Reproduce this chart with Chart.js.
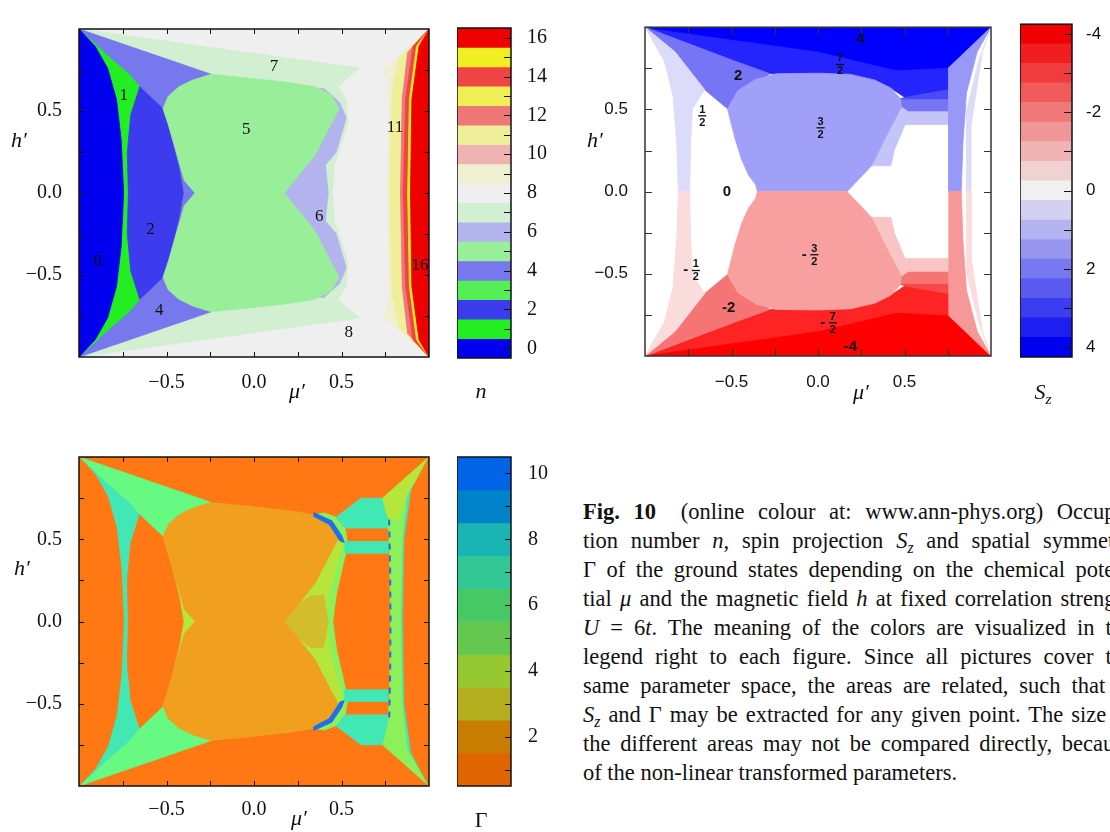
<!DOCTYPE html>
<html>
<head>
<meta charset="utf-8">
<title>Fig. 10</title>
<script src="https://cdn.jsdelivr.net/npm/chart.js@4.4.1/dist/chart.umd.min.js"></script>
<style>
html, body { margin: 0; padding: 0; background: #fff; overflow: hidden; }
body { position: relative; width: 1110px; height: 832px; font-family: "Liberation Serif", "DejaVu Serif", serif; color: #111; }
canvas { position: absolute; }
.lbl { position: absolute; transform: translate(-50%, -50%); font-size: 22px; font-style: italic; white-space: nowrap; line-height: 1; }
.up { font-style: normal; }
#caption { position: absolute; left: 583px; top: 497px; width: 550px; font-size: 22.5px; line-height: 29px; }
#caption div { text-align: justify; text-align-last: justify; }
#caption div.last { text-align-last: left; }
sub { font-size: 0.7em; line-height: 0; vertical-align: -0.3em; }
</style>
</head>
<body>
<canvas id="plane-n" width="445" height="400" style="left:0;top:0"></canvas>
<canvas id="bar-n" width="100" height="400" style="left:457px;top:0"></canvas>
<canvas id="plane-sz" width="445" height="400" style="left:560px;top:0"></canvas>
<canvas id="bar-sz" width="90" height="400" style="left:1020px;top:0"></canvas>
<canvas id="plane-gamma" width="445" height="404" style="left:0;top:428px"></canvas>
<canvas id="bar-gamma" width="100" height="404" style="left:457px;top:428px"></canvas>

<div class="lbl" style="left:19px;top:140px">h&prime;</div>
<div class="lbl" style="left:297px;top:391px">&mu;&prime;</div>
<div class="lbl" style="left:481px;top:391px">n</div>
<div class="lbl" style="left:595px;top:140px">h&prime;</div>
<div class="lbl" style="left:861px;top:392px">&mu;&prime;</div>
<div class="lbl" style="left:1043px;top:392px">S<sub>z</sub></div>
<div class="lbl" style="left:22px;top:568px">h&prime;</div>
<div class="lbl" style="left:299px;top:818px">&mu;&prime;</div>
<div class="lbl up" style="left:481px;top:820px">&Gamma;</div>

<div id="caption">
<div><b>Fig. 10</b>&ensp; (online colour at: www.ann-phys.org) Occupa-</div>
<div>tion number <i>n</i>, spin projection <i>S<sub>z</sub></i> and spatial symmetry</div>
<div>&Gamma; of the ground states depending on the chemical poten-</div>
<div>tial <i>&mu;</i> and the magnetic field <i>h</i> at fixed correlation strength</div>
<div><i>U</i> = 6<i>t</i>. The meaning of the colors are visualized in the</div>
<div>legend right to each figure. Since all pictures cover the</div>
<div>same parameter space, the areas are related, such that <i>n</i>,</div>
<div><i>S<sub>z</sub></i> and &Gamma; may be extracted for any given point. The size of</div>
<div>the different areas may not be compared directly, because</div>
<div class="last">of the non-linear transformed parameters.</div>
</div>

<script>
// ---- axes of the three (mu', h') planes ----
const planeTicks = [-0.75, -0.5, -0.25, 0, 0.25, 0.5, 0.75];
const planeTickText = ['', '\u22120.5', '', '0.0', '', '0.5', ''];

// ---- colour bars ----
const nLevels = [0, 1, 2, 3, 4, 5, 6, 7, 8, 9, 10, 11, 12, 13, 14, 15, 16];
const nBarText = ['0', '', '2', '', '4', '', '6', '', '8', '', '10', '', '12', '', '14', '', '16'];
const nColors = ['#0000ee', '#22ee22', '#3c3cee', '#55ee55', '#7777ee', '#99ee99', '#b3b3ee', '#d2efd2', '#efefef',
                 '#efefd2', '#efb3b3', '#efef99', '#ef7777', '#efef55', '#ef4444', '#efef22', '#ef0000'];

const szLevels = [-4, -3.5, -3, -2.5, -2, -1.5, -1, -0.5, 0, 0.5, 1, 1.5, 2, 2.5, 3, 3.5, 4];
const szBarTicks = [-4, -3, -2, -1, 0, 1, 2, 3, 4];
const szBarText = ['-4', '', '-2', '', '0', '', '2', '', '4'];
const szColors = ['#f00000', '#f01e1e', '#f03c3c', '#f05a5a', '#f07878', '#f09696', '#f0b4b4', '#f0d2d2', '#f0f0f0',
                  '#d2d2f0', '#b4b4f0', '#9696f0', '#7878f0', '#5a5af0', '#3c3cf0', '#1e1ef0', '#0000f0'];

const gammaLevels = [1, 2, 3, 4, 5, 6, 7, 8, 9, 10];
const gammaBarText = ['', '2', '', '4', '', '6', '', '8', '', '10'];
const gammaColors = ['#e06400', '#c87d00', '#b4af1e', '#96c832', '#64c850', '#46c864', '#32c896', '#19b4b4', '#0082c8', '#0064e6'];

// ---- regions, [mu', h'] outlines ----
const fullSquare = [[-1, 1], [1, 1], [1, -1], [-1, -1]];

// occupation number regions (also reused for Gamma, same parameter space)
const nState7 = [[-1, 1], [0.602, 0.762], [0.48, 0.648], [0.527, 0.571], [0.535, 0.419], [0.459, 0.171], [0.449, 0],
                 [0.459, -0.171], [0.535, -0.419], [0.527, -0.571], [0.48, -0.648], [0.602, -0.762], [-1, -1]];
const nState4 = [[-1, 1], [-0.245, 0.724], [-0.245, -0.724], [-1, -1]];
const nState1 = [[-1, 1], [-0.837, 0.838], [-0.714, 0.724], [-0.653, 0.648], [-0.704, 0.476], [-0.724, 0.248], [-0.718, 0],
                 [-0.724, -0.248], [-0.704, -0.476], [-0.653, -0.648], [-0.714, -0.724], [-0.837, -0.838], [-1, -1]];
const nState0 = [[-1, 1], [-0.908, 0.895], [-0.837, 0.762], [-0.786, 0.571], [-0.759, 0.324], [-0.745, 0],
                 [-0.759, -0.324], [-0.786, -0.571], [-0.837, -0.762], [-0.908, -0.895], [-1, -1]];
const nState2 = [[-0.653, 0.648], [-0.52, 0.514], [-0.469, 0.324], [-0.429, 0.152], [-0.404, 0], [-0.429, -0.152],
                 [-0.469, -0.324], [-0.52, -0.514], [-0.653, -0.648], [-0.704, -0.476], [-0.724, -0.248], [-0.718, 0],
                 [-0.724, 0.248], [-0.704, 0.476]];
const nState6 = [[0.398, 0.638], [0.49, 0.552], [0.527, 0.457], [0.469, 0.248], [0.408, 0.171], [0.424, 0],
                 [0.408, -0.171], [0.469, -0.248], [0.527, -0.457], [0.49, -0.552], [0.398, -0.638], [0.1, -0.6], [0.1, 0.6]];
const nState5 = [[-0.52, 0.514], [-0.49, 0.59], [-0.429, 0.648], [-0.347, 0.69], [-0.245, 0.724], [-0.02, 0.699],
                 [0.184, 0.676], [0.347, 0.648], [0.439, 0.6], [0.486, 0.514], [0.347, 0.229], [0.173, 0],
                 [0.347, -0.229], [0.486, -0.514], [0.439, -0.6], [0.347, -0.648], [0.184, -0.676], [-0.02, -0.699],
                 [-0.245, -0.724], [-0.347, -0.69], [-0.429, -0.648], [-0.49, -0.59], [-0.52, -0.514], [-0.49, -0.419],
                 [-0.439, -0.229], [-0.398, -0.076], [-0.337, 0], [-0.398, 0.076], [-0.439, 0.229], [-0.49, 0.419]];
const nState9 = [[1, 1], [0.735, 0.752], [0.771, 0.667], [0.765, 0], [0.771, -0.667], [0.735, -0.752], [1, -1]];
const nState11 = [[1, 1], [0.827, 0.819], [0.792, 0.629], [0.78, 0.286], [0.776, 0], [0.78, -0.286], [0.792, -0.629],
                  [0.827, -0.819], [1, -1]];
const nState12 = [[1, 1], [0.878, 0.857], [0.847, 0.571], [0.837, 0], [0.847, -0.571], [0.878, -0.857], [1, -1]];
const nState14 = [[1, 1], [0.908, 0.895], [0.867, 0.571], [0.853, 0], [0.867, -0.571], [0.908, -0.895], [1, -1]];
const nState15 = [[1, 1], [0.929, 0.895], [0.888, 0.571], [0.878, 0], [0.888, -0.571], [0.929, -0.895], [1, -1]];
const nState16 = [[1, 1], [0.943, 0.895], [0.902, 0.571], [0.894, 0], [0.902, -0.571], [0.943, -0.895], [1, -1]];

const nLabelText = ['0', '1', '2', '4', '5', '6', '7', '8', '11', '16'];
const nLabelX = [-0.894, -0.745, -0.592, -0.541, -0.045, 0.373, 0.114, 0.541, 0.806, 0.949];
const nLabelY = [-0.415, 0.594, -0.225, -0.714, 0.385, -0.143, 0.771, -0.848, 0.4, -0.444];

// spin projection regions
const szTop72 = [[-1, 1], [1, 1], [0.756, 0.62], [0.503, 0.572], [0.421, 0.63], [0.188, 0.713], [-0.279, 0.717], [-0.482, 0.794]];
const szTop4 = [[-1, 1], [1, 1], [0.898, 0.89], [0.756, 0.755], [0.452, 0.74], [0.005, 0.852]];
const szTop2 = [[-1, 1], [-0.482, 0.794], [-0.279, 0.717], [-0.523, 0.504], [-0.655, 0.62], [-0.827, 0.851]];
const szTopHalf = [[-1, 1], [-0.827, 0.851], [-0.655, 0.62], [-0.726, 0.504], [-0.736, 0.292], [-0.742, 0], [-0.807, 0],
                   [-0.817, 0.292], [-0.838, 0.581], [-0.888, 0.793]];
const szTopBandA = [[0.503, 0.572], [0.756, 0.62], [0.756, 0.558], [0.45, 0.558]];
const szTopBandB = [[0.45, 0.558], [0.756, 0.558], [0.756, 0.485], [0.45, 0.485]];
const szTopBandC = [[0.45, 0.485], [0.756, 0.485], [0.756, 0.408], [0.45, 0.408]];
const szTopWedge = [[0.482, 0.514], [0.523, 0.485], [0.503, 0.408], [0.442, 0.254], [0.421, 0.157], [0.31, 0.157], [0.391, 0.331]];
const szTop32 = [[-0.523, 0.504], [-0.462, 0.616], [-0.36, 0.683], [-0.239, 0.717], [0.005, 0.72], [0.188, 0.713],
                 [0.33, 0.678], [0.421, 0.63], [0.476, 0.566], [0.482, 0.514], [0.391, 0.331], [0.31, 0.157], [0.168, 0],
                 [-0.35, 0], [-0.36, 0.041], [-0.401, 0.099], [-0.442, 0.196], [-0.482, 0.331]];
const szTopRightA = [[1, 1], [0.756, 0.755], [0.756, 0], [0.828, 0], [0.838, 0.3], [0.858, 0.6], [0.92, 0.85]];
const szTopRightB = [[1, 1], [0.93, 0.8], [0.86, 0.5], [0.858, 0], [0.885, 0], [0.885, 0.4], [0.95, 0.85]];

const szBot72 = [[-1, -1], [1, -1], [0.756, -0.62], [0.503, -0.572], [0.421, -0.63], [0.188, -0.713], [-0.279, -0.717], [-0.482, -0.794]];
const szBot4 = [[-1, -1], [1, -1], [0.898, -0.89], [0.756, -0.755], [0.452, -0.74], [0.005, -0.852]];
const szBot2 = [[-1, -1], [-0.482, -0.794], [-0.279, -0.717], [-0.523, -0.504], [-0.655, -0.62], [-0.827, -0.851]];
const szBotHalf = [[-1, -1], [-0.827, -0.851], [-0.655, -0.62], [-0.726, -0.504], [-0.736, -0.292], [-0.742, 0], [-0.807, 0],
                   [-0.817, -0.292], [-0.838, -0.581], [-0.888, -0.793]];
const szBotBandA = [[0.503, -0.572], [0.756, -0.62], [0.756, -0.558], [0.45, -0.558]];
const szBotBandB = [[0.45, -0.558], [0.756, -0.558], [0.756, -0.485], [0.45, -0.485]];
const szBotBandC = [[0.45, -0.485], [0.756, -0.485], [0.756, -0.408], [0.45, -0.408]];
const szBotWedge = [[0.482, -0.514], [0.523, -0.485], [0.503, -0.408], [0.442, -0.254], [0.421, -0.157], [0.31, -0.157], [0.391, -0.331]];
const szBot32 = [[-0.523, -0.504], [-0.462, -0.616], [-0.36, -0.683], [-0.239, -0.717], [0.005, -0.72], [0.188, -0.713],
                 [0.33, -0.678], [0.421, -0.63], [0.476, -0.566], [0.482, -0.514], [0.391, -0.331], [0.31, -0.157], [0.168, 0],
                 [-0.35, 0], [-0.36, -0.041], [-0.401, -0.099], [-0.442, -0.196], [-0.482, -0.331]];
const szBotRightA = [[1, -1], [0.756, -0.755], [0.756, 0], [0.828, 0], [0.838, -0.3], [0.858, -0.6], [0.92, -0.85]];
const szBotRightB = [[1, -1], [0.93, -0.8], [0.86, -0.5], [0.858, 0], [0.885, 0], [0.885, -0.4], [0.95, -0.85]];

const szLabelText = ['4', '7/2', '2', '1/2', '3/2', '0', '-1/2', '-3/2', '-2', '-7/2', '-4'];
const szLabelX = [0.245, 0.127, -0.462, -0.669, 0.015, -0.527, -0.706, -0.021, -0.517, 0.086, 0.188];
const szLabelY = [0.932, 0.774, 0.707, 0.462, 0.389, 0, -0.479, -0.383, -0.707, -0.797, -0.942];

// spatial symmetry regions (extra ones, the rest reuse the n outlines)
const gammaGap = [[-0.52, 0.514], [-0.3, 0.514], [-0.3, -0.514], [-0.52, -0.514]];
const gammaStrip7 = [[0.4, 0.66], [0.469, 0.634], [0.52, 0.568], [0.535, 0.47], [0.47, 0.16], [0.45, 0], [0.47, -0.16],
                     [0.535, -0.47], [0.52, -0.568], [0.469, -0.634], [0.4, -0.66], [0.1, -0.6], [0.1, 0.6]];
const gammaWedge6 = [[0.47, 0.56], [0.51, 0.49], [0.43, 0.17], [0.415, 0], [0.43, -0.17], [0.51, -0.49], [0.47, -0.56],
                     [0.1, -0.5], [0.1, 0.5]];
const gammaNotch = [[0.1, 0], [0.327, 0.158], [0.398, 0.158], [0.424, 0], [0.398, -0.158], [0.327, -0.158]];
const gammaArcTop = [[0.343, 0.662], [0.445, 0.612], [0.5, 0.525], [0.517, 0.48], [0.49, 0.49], [0.47, 0.525], [0.43, 0.59], [0.34, 0.64]];
const gammaArcBot = [[0.343, -0.662], [0.445, -0.612], [0.5, -0.525], [0.517, -0.48], [0.49, -0.49], [0.47, -0.525], [0.43, -0.59], [0.34, -0.64]];
const gammaBlockTop = [[0.469, 0.634], [0.612, 0.749], [0.735, 0.749], [0.765, 0.634], [0.765, 0.568], [0.52, 0.568]];
const gammaBandTop = [[0.52, 0.486], [0.765, 0.486], [0.765, 0.415], [0.52, 0.415]];
const gammaBandBot = [[0.52, -0.486], [0.765, -0.486], [0.765, -0.415], [0.52, -0.415]];
const gammaBlockBot = [[0.469, -0.634], [0.612, -0.749], [0.735, -0.749], [0.765, -0.634], [0.765, -0.568], [0.52, -0.568]];
const gammaRight7 = [[1, 1], [0.735, 0.749], [0.765, 0.634], [0.775, 0.4], [0.78, 0], [0.775, -0.4], [0.765, -0.634],
                     [0.735, -0.749], [1, -1]];
const gammaRightCyan = [[1, 1], [0.88, 0.78], [0.85, 0.5], [0.842, 0], [0.85, -0.5], [0.88, -0.78], [1, -1]];
const gammaCorner = [[0.735, 0.749], [1, 1], [0.88, 0.78], [0.82, 0.62], [0.765, 0.634]];
const gammaRightEdge = [[1, 1], [0.9, 0.8], [0.86, 0.5], [0.852, 0], [0.86, -0.5], [0.9, -0.8], [1, -1]];
const gammaDashLine = [[0.772, 0.62], [0.778, 0.3], [0.78, 0], [0.778, -0.3], [0.772, -0.62]];

// ---- plugins ----
const frameTicks = {
  id: 'frameTicks',
  afterDraw(chart, args, o) {
    const { ctx, chartArea: a } = chart;
    const xs = chart.scales.x, ys = chart.scales.y;
    ctx.save();
    ctx.strokeStyle = o.color;
    ctx.lineWidth = 1;
    ctx.beginPath();
    (o.xTicks || []).forEach(v => {
      const px = Math.round(xs.getPixelForValue(v)) + 0.5;
      ctx.moveTo(px, a.top); ctx.lineTo(px, a.top + o.len);
      ctx.moveTo(px, a.bottom); ctx.lineTo(px, a.bottom - o.len);
    });
    (o.yTicks || []).forEach(v => {
      const py = Math.round(ys.getPixelForValue(v)) + 0.5;
      if (o.left) { ctx.moveTo(a.left, py); ctx.lineTo(a.left + o.len, py); }
      ctx.moveTo(a.right, py); ctx.lineTo(a.right - o.len, py);
    });
    ctx.stroke();
    ctx.lineWidth = o.width;
    ctx.strokeRect(a.left, a.top, a.right - a.left, a.bottom - a.top);
    ctx.restore();
  }
};

const regionLabels = {
  id: 'regionLabels',
  afterDatasetsDraw(chart, args, o) {
    if (!o.texts) return;
    const ctx = chart.ctx;
    ctx.save();
    ctx.fillStyle = '#111';
    ctx.textAlign = 'center';
    ctx.textBaseline = 'middle';
    o.texts.forEach((t, i) => {
      const px = chart.scales.x.getPixelForValue(o.xs[i]);
      const py = chart.scales.y.getPixelForValue(o.ys[i]);
      const neg = t[0] === '-' && t.includes('/');
      const body = neg ? t.slice(1) : t;
      if (!body.includes('/')) {
        ctx.font = o.font;
        ctx.fillText(t, px, py);
        return;
      }
      // stacked fraction
      const [num, den] = body.split('/');
      ctx.font = o.fracFont;
      const w = Math.max(ctx.measureText(num).width, ctx.measureText(den).width);
      ctx.fillText(num, px, py - 6);
      ctx.fillText(den, px, py + 7);
      ctx.fillRect(px - w / 2 - 1, py - 0.5, w + 2, 1.3);
      if (neg) {
        ctx.font = o.font;
        ctx.fillText('-', px - w / 2 - 7, py);
      }
    });
    ctx.restore();
  }
};

// ---- builders ----
function toPoints(poly) {
  const pts = poly.map(p => ({ x: p[0], y: p[1] }));
  pts.push({ x: poly[0][0], y: poly[0][1] }); // close the outline
  return pts;
}

// Chart.js paints dataset 0 last, so the layer list is reversed:
// the first layer in the list ends up at the bottom.
function regionDatasets(layers) {
  return layers.map(([poly, color]) => ({
    data: toPoints(poly),
    backgroundColor: color,
    borderColor: color,
    borderWidth: 0.8,
    fill: 'shape',
    pointRadius: 0,
    tension: 0
  })).reverse();
}

function axisOptions(cfg, axis) {
  return {
    type: 'linear',
    min: -1,
    max: 1,
    position: axis === 'x' ? 'bottom' : 'left',
    grid: { display: false, drawTicks: false },
    border: { display: false },
    afterBuildTicks: s => { s.ticks = planeTicks.map(v => ({ value: v })); },
    afterFit: s => {
      if (axis === 'x') s.height = cfg.xAxisHeight;
      else s.width = cfg.yAxisWidth;
    },
    ticks: {
      autoSkip: false,
      maxRotation: 0,
      minRotation: 0,
      padding: axis === 'x' ? cfg.xPad : cfg.yPad,
      color: '#111',
      font: cfg.tickFont,
      callback: v => planeTickText[planeTicks.indexOf(v)]
    }
  };
}

function drawPlane(canvasId, layers, cfg) {
  return new Chart(canvasId, {
    type: 'line',
    data: { datasets: (cfg.extra || []).concat(regionDatasets(layers)) },
    options: {
      responsive: false,
      animation: false,
      events: [],
      layout: { padding: { top: cfg.top, right: cfg.right, left: 0, bottom: 0 } },
      plugins: {
        legend: { display: false },
        tooltip: { enabled: false },
        frameTicks: { color: cfg.frame, width: 1.5, len: cfg.tickLen, xTicks: planeTicks, yTicks: planeTicks, left: true },
        regionLabels: cfg.labels || {}
      },
      scales: { x: axisOptions(cfg, 'x'), y: axisOptions(cfg, 'y') }
    },
    plugins: [frameTicks, regionLabels]
  });
}

function drawColorbar(canvasId, levels, colors, cfg) {
  return new Chart(canvasId, {
    type: 'bar',
    data: {
      labels: ['c'],
      datasets: [{
        data: levels.map(v => ({ x: 'c', y: [v - cfg.half, v + cfg.half] })),
        backgroundColor: colors,
        borderWidth: 0,
        barPercentage: 1,
        categoryPercentage: 1
      }]
    },
    options: {
      responsive: false,
      animation: false,
      events: [],
      layout: { padding: { top: cfg.top, bottom: cfg.bottom, left: 0, right: 0 } },
      plugins: {
        legend: { display: false },
        tooltip: { enabled: false },
        frameTicks: { color: '#111', width: 1.5, len: cfg.tickLen, xTicks: [], yTicks: cfg.ticks, left: false }
      },
      scales: {
        x: { display: false },
        y: {
          position: 'right',
          min: levels[0] - cfg.half,
          max: levels[levels.length - 1] + cfg.half,
          reverse: !!cfg.reverse,
          grid: { display: false, drawTicks: false },
          border: { display: false },
          afterBuildTicks: s => { s.ticks = cfg.ticks.map(v => ({ value: v })); },
          afterFit: s => { s.width = cfg.axisWidth; },
          ticks: {
            autoSkip: false,
            padding: cfg.pad,
            color: '#111',
            font: cfg.font,
            callback: v => cfg.text[cfg.ticks.indexOf(v)]
          }
        }
      }
    },
    plugins: [frameTicks]
  });
}

// ---- occupation number n ----
drawPlane('plane-n', [
  [fullSquare, nColors[8]], [nState7, nColors[7]], [nState4, nColors[4]], [nState1, nColors[1]],
  [nState0, nColors[0]], [nState2, nColors[2]], [nState6, nColors[6]], [nState5, nColors[5]],
  [nState9, nColors[9]], [nState11, nColors[11]], [nState12, nColors[12]], [nState14, nColors[14]],
  [nState15, nColors[15]], [nState16, nColors[16]]
], {
  top: 8, right: 16, xAxisHeight: 43, yAxisWidth: 79, xPad: 14, yPad: 17, tickLen: 5, frame: '#111',
  tickFont: { family: 'Liberation Serif', size: 20 },
  labels: { texts: nLabelText, xs: nLabelX, ys: nLabelY, font: '17px "Liberation Serif"' }
});
drawColorbar('bar-n', nLevels, nColors, {
  half: 0.5, ticks: nLevels, text: nBarText, top: 8, bottom: 42, axisWidth: 46, pad: 16, tickLen: 7,
  font: { family: 'Liberation Serif', size: 20 }
});

// ---- spin projection Sz ----
const szBlue = { s4: '#0000ff', s72: '#2424ff', s3: '#4a4af6', s2: '#7575f5', s32: '#a0a0f8', s1: '#c4c4f8', s12: '#dcdcfa', sA: '#9898f6' };
const szRed = { s4: '#ff0000', s72: '#ff2424', s3: '#f64a4a', s2: '#f57575', s32: '#f8a0a0', s1: '#f8c4c4', s12: '#fadcdc', sA: '#f69898' };
drawPlane('plane-sz', [
  [szTop72, szBlue.s72], [szTop4, szBlue.s4], [szTop2, szBlue.s2], [szTopHalf, szBlue.s12],
  [szTopBandA, szBlue.s3], [szTopBandB, szBlue.s2], [szTopBandC, szBlue.s1], [szTopWedge, szBlue.s1],
  [szTop32, szBlue.s32], [szTopRightA, szBlue.sA], [szTopRightB, szBlue.s12],
  [szBot72, szRed.s72], [szBot4, szRed.s4], [szBot2, szRed.s2], [szBotHalf, szRed.s12],
  [szBotBandA, szRed.s3], [szBotBandB, szRed.s2], [szBotBandC, szRed.s1], [szBotWedge, szRed.s1],
  [szBot32, szRed.s32], [szBotRightA, szRed.sA], [szBotRightB, szRed.s12]
], {
  top: 10, right: 14, xAxisHeight: 44, yAxisWidth: 85, xPad: 16, yPad: 17, tickLen: 7, frame: '#333',
  tickFont: { family: 'Liberation Sans', size: 17 },
  labels: { texts: szLabelText, xs: szLabelX, ys: szLabelY, font: 'bold 15px "Liberation Sans"', fracFont: 'bold 11px "Liberation Sans"' }
});
drawColorbar('bar-sz', szLevels, szColors, {
  half: 0.25, ticks: szBarTicks, text: szBarText, reverse: true, top: 11, bottom: 43, axisWidth: 38, pad: 14, tickLen: 8,
  font: { family: 'Liberation Sans', size: 17 }
});

// ---- spatial symmetry Gamma ----
const gOrange = '#ff7814', gCentre = '#f0a01e', gCyan = '#41e8b4', gGreen = '#66fa82',
      gYellow = '#b4e63c', gLime = '#8cf05a', gOlive = '#d2be2d', gBlue = '#1e6ef0';
drawPlane('plane-gamma', [
  [fullSquare, gOrange], [nState4, gGreen], [nState1, gCyan], [nState0, gOrange], [gammaGap, gYellow],
  [nState2, gOrange], [gammaStrip7, gLime], [gammaWedge6, gYellow], [gammaNotch, gOlive], [nState5, gCentre],
  [gammaArcTop, gBlue], [gammaArcBot, gBlue], [gammaBlockTop, gCyan], [gammaBandTop, gCyan],
  [gammaBandBot, gCyan], [gammaBlockBot, gCyan], [gammaRight7, gLime], [gammaRightCyan, gCyan],
  [gammaCorner, gYellow], [gammaRightEdge, gOrange]
], {
  top: 8, right: 16, xAxisHeight: 46, yAxisWidth: 79, xPad: 12, yPad: 17, tickLen: 5, frame: '#111',
  tickFont: { family: 'Liberation Serif', size: 20 },
  extra: [{
    data: gammaDashLine.map(p => ({ x: p[0], y: p[1] })),
    borderColor: gBlue, borderWidth: 2, borderDash: [6, 6], fill: false, pointRadius: 0, tension: 0
  }]
});
drawColorbar('bar-gamma', gammaLevels, gammaColors, {
  half: 0.5, ticks: gammaLevels, text: gammaBarText, top: 8, bottom: 46, axisWidth: 46, pad: 17, tickLen: 6,
  font: { family: 'Liberation Serif', size: 20 }
});
</script>
</body>
</html>
